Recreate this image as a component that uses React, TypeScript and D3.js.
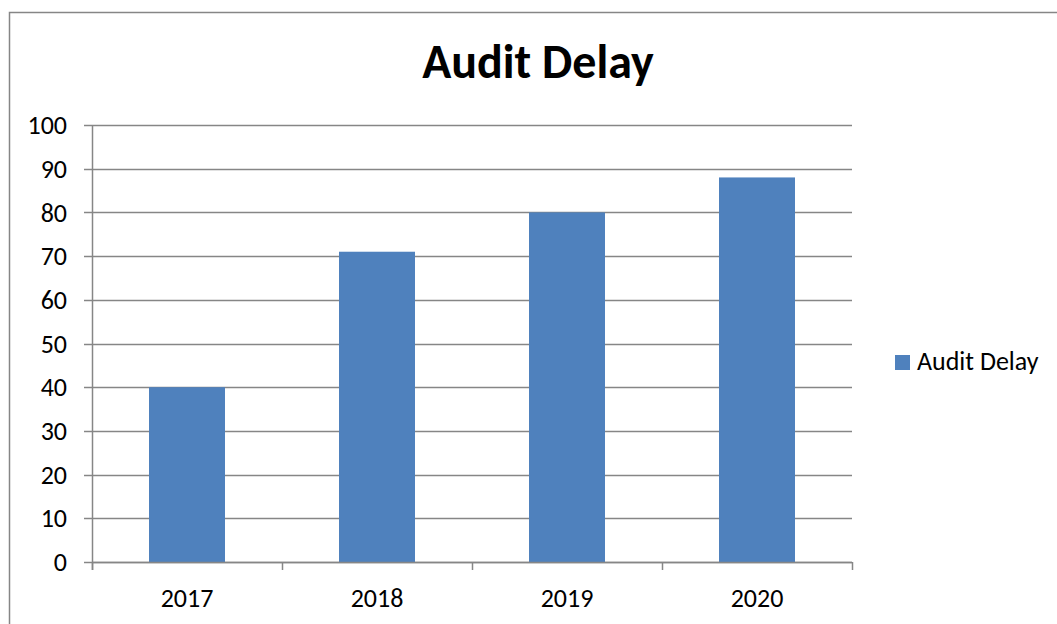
import React, { useRef, useEffect } from "react";
import * as d3 from "d3";

const years = ["2017", "2018", "2019", "2020"];
const delays = [40, 71, 80, 88];
const yTicks = [0, 10, 20, 30, 40, 50, 60, 70, 80, 90, 100];
const seriesName = "Audit Delay";

const FONT = "Carlito, Calibri, Lato, sans-serif";

const App: React.FC = () => {
    const svgRef = useRef<SVGSVGElement | null>(null);

    useEffect(() => {
        const width = 1057;
        const height = 624;
        const plot = { left: 92, right: 852, top: 125, bottom: 562 };

        const svg = d3.select(svgRef.current);
        svg.selectAll("*").remove();

        // outer chart frame
        svg.append("rect")
            .attr("x", 9.5)
            .attr("y", 12.5)
            .attr("width", width + 20)
            .attr("height", height + 20)
            .attr("fill", "white")
            .attr("stroke", "#868686")
            .attr("stroke-width", 1.5);

        const x = d3
            .scaleBand<string>()
            .domain(years)
            .range([plot.left, plot.right])
            .paddingInner(0.6)
            .paddingOuter(0.3);

        const y = d3.scaleLinear().domain([0, 100]).range([plot.bottom, plot.top]);

        // gridlines
        svg.append("g")
            .selectAll("line")
            .data(yTicks)
            .join("line")
            .attr("x1", plot.left - 8)
            .attr("x2", plot.right)
            .attr("y1", (d) => Math.round(y(d)) + 0.5)
            .attr("y2", (d) => Math.round(y(d)) + 0.5)
            .attr("stroke", "#868686")
            .attr("stroke-width", 1.5);

        // y axis labels
        svg.append("g")
            .selectAll("text")
            .data(yTicks)
            .join("text")
            .attr("x", 67)
            .attr("y", (d) => y(d))
            .attr("dy", "0.35em")
            .attr("text-anchor", "end")
            .style("font", `26px ${FONT}`)
            .attr("fill", "#000")
            .text((d) => d);

        // bars
        svg.append("g")
            .selectAll("rect")
            .data(delays)
            .join("rect")
            .attr("x", (_, i) => x(years[i])!)
            .attr("y", (d) => y(d))
            .attr("width", x.bandwidth())
            .attr("height", (d) => plot.bottom - y(d))
            .attr("fill", "#4F81BD");

        // y axis line
        svg.append("line")
            .attr("x1", plot.left + 0.5)
            .attr("x2", plot.left + 0.5)
            .attr("y1", plot.top)
            .attr("y2", plot.bottom + 8)
            .attr("stroke", "#868686")
            .attr("stroke-width", 1.5);

        // x axis line + ticks
        svg.append("line")
            .attr("x1", plot.left)
            .attr("x2", plot.right)
            .attr("y1", plot.bottom + 0.5)
            .attr("y2", plot.bottom + 0.5)
            .attr("stroke", "#868686")
            .attr("stroke-width", 1.5);

        const step = (plot.right - plot.left) / years.length;
        svg.append("g")
            .selectAll("line")
            .data(d3.range(years.length + 1))
            .join("line")
            .attr("x1", (i) => plot.left + i * step + 0.5)
            .attr("x2", (i) => plot.left + i * step + 0.5)
            .attr("y1", plot.bottom)
            .attr("y2", plot.bottom + 8)
            .attr("stroke", "#868686")
            .attr("stroke-width", 1.5);

        // x labels
        svg.append("g")
            .selectAll("text")
            .data(years)
            .join("text")
            .attr("x", (d) => x(d)! + x.bandwidth() / 2)
            .attr("y", 607)
            .attr("text-anchor", "middle")
            .style("font", `26px ${FONT}`)
            .attr("fill", "#000")
            .text((d) => d);

        // title
        svg.append("text")
            .attr("x", 538)
            .attr("y", 78)
            .attr("text-anchor", "middle")
            .style("font", `bold 48px ${FONT}`)
            .attr("fill", "#000")
            .text(seriesName);

        // legend
        svg.append("rect")
            .attr("x", 895)
            .attr("y", 355)
            .attr("width", 15)
            .attr("height", 15)
            .attr("fill", "#4F81BD");

        svg.append("text")
            .attr("x", 917)
            .attr("y", 370)
            .style("font", `26px ${FONT}`)
            .attr("fill", "#000")
            .text(seriesName);
    }, []);

    return (
        <svg
            ref={svgRef}
            width={1057}
            height={624}
            style={{ position: "absolute", left: 0, top: 0, display: "block" }}
        />
    );
};

export default App;
